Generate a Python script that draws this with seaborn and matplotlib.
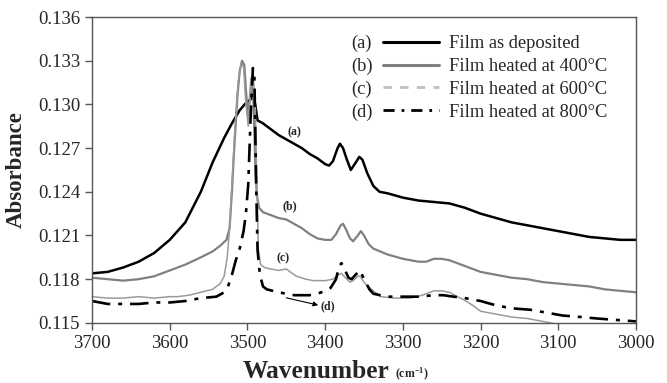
import matplotlib
matplotlib.use('Agg')
import matplotlib.pyplot as plt
from matplotlib.lines import Line2D
import seaborn as sns
import numpy as np
import pandas as pd

# ---- data (wavenumber, absorbance) ----
wn_a = [3700, 3680, 3660, 3640, 3620, 3600, 3580, 3560, 3545, 3530, 3520, 3510, 3502, 3497, 3493,
        3490, 3487, 3480, 3470, 3460, 3450, 3440, 3430, 3420, 3410, 3400, 3395, 3390, 3384, 3381,
        3377, 3372, 3367, 3362, 3356, 3352, 3346, 3338, 3330, 3320, 3300, 3280, 3260, 3240, 3220,
        3200, 3180, 3160, 3140, 3120, 3100, 3080, 3060, 3040, 3020, 3000]
abs_a = [0.1184, 0.1185, 0.1188, 0.1192, 0.1198, 0.1207, 0.1219, 0.1240, 0.1260, 0.1277, 0.1287,
         0.1296, 0.1301, 0.1303, 0.1305, 0.1300, 0.1289, 0.1287, 0.1283, 0.1279, 0.1276, 0.1273,
         0.1270, 0.1266, 0.1263, 0.1259, 0.1258, 0.1261, 0.1270, 0.1273, 0.1270, 0.1262, 0.1255,
         0.1259, 0.1264, 0.1262, 0.1253, 0.1244, 0.1240, 0.1239, 0.1236, 0.1234, 0.1233, 0.1232,
         0.1229, 0.1225, 0.1222, 0.1219, 0.1217, 0.1215, 0.1213, 0.1211, 0.1209, 0.1208, 0.1207,
         0.1207]

wn_b = [3700, 3680, 3660, 3640, 3620, 3600, 3580, 3560, 3545, 3535, 3527, 3523, 3520, 3517, 3513,
        3510, 3507, 3504, 3502, 3499, 3495, 3492, 3490, 3488, 3485, 3480, 3470, 3460, 3450, 3440,
        3430, 3420, 3410, 3400, 3392, 3386, 3380, 3377, 3373, 3368, 3364, 3358, 3354, 3350, 3344,
        3338, 3320, 3300, 3280, 3270, 3260, 3250, 3240, 3230, 3220, 3200, 3180, 3160, 3140, 3120,
        3100, 3080, 3060, 3040, 3020, 3000]
abs_b = [0.1181, 0.1180, 0.1179, 0.1180, 0.1182, 0.1186, 0.1190, 0.1195, 0.1199, 0.1203, 0.1207,
         0.1215, 0.1240, 0.1270, 0.1305, 0.1323, 0.1330, 0.1327, 0.1310, 0.1290, 0.1318, 0.1300,
         0.1260, 0.1238, 0.1229, 0.1226, 0.1224, 0.1222, 0.1221, 0.1218, 0.1215, 0.1211, 0.1208,
         0.1207, 0.1207, 0.1211, 0.1217, 0.1218, 0.1214, 0.1208, 0.1206, 0.1210, 0.1213, 0.1210,
         0.1204, 0.1201, 0.1197, 0.1194, 0.1192, 0.1192, 0.1194, 0.1194, 0.1193, 0.1191, 0.1189,
         0.1185, 0.1183, 0.1181, 0.1180, 0.1178, 0.1177, 0.1176, 0.1175, 0.1173, 0.1172, 0.1171]

wn_c = [3700, 3680, 3660, 3640, 3620, 3600, 3590, 3575, 3560, 3545, 3535, 3530, 3526, 3523, 3520,
        3516, 3512, 3508, 3505, 3502, 3499, 3496, 3493, 3490, 3488, 3486, 3483, 3478, 3470, 3460,
        3450, 3445, 3437, 3425, 3415, 3400, 3390, 3383, 3379, 3374, 3368, 3364, 3358, 3355, 3350,
        3345, 3338, 3329, 3310, 3290, 3275, 3260, 3250, 3240, 3230, 3222, 3210, 3200, 3180, 3160,
        3140, 3120, 3100, 3080, 3060, 3030, 3000]
abs_c = [0.1168, 0.1167, 0.1167, 0.1168, 0.1167, 0.1168, 0.1168, 0.1169, 0.1171, 0.1173, 0.1177,
         0.1182, 0.1195, 0.1215, 0.1245, 0.1285, 0.1315, 0.1328, 0.1326, 0.1300, 0.1285, 0.1310,
         0.1322, 0.1300, 0.1250, 0.1200, 0.1190, 0.1188, 0.1187, 0.1186, 0.1187, 0.1185, 0.1182,
         0.1180, 0.1179, 0.1179, 0.1180, 0.1183, 0.1184, 0.1181, 0.1178, 0.1179, 0.1182, 0.1182,
         0.1178, 0.1175, 0.1172, 0.1168, 0.1167, 0.1167, 0.1169, 0.1172, 0.1172, 0.1171, 0.1168,
         0.1166, 0.1162, 0.1158, 0.1156, 0.1154, 0.1153, 0.1151, 0.1149, 0.1148, 0.1147, 0.1146,
         0.1145]

wn_d = [3700, 3680, 3660, 3640, 3620, 3600, 3580, 3560, 3540, 3530, 3525, 3520, 3515, 3510, 3505,
        3502, 3499, 3496, 3493, 3491, 3489, 3487, 3484, 3480, 3475, 3460, 3450, 3440, 3430, 3420,
        3410, 3400, 3393, 3386, 3382, 3379, 3376, 3370, 3366, 3361, 3355, 3350, 3343, 3338, 3320,
        3300, 3280, 3260, 3248, 3235, 3220, 3200, 3180, 3160, 3136, 3115, 3094, 3070, 3050, 3025,
        3000]
abs_d = [0.1165, 0.1163, 0.1163, 0.1163, 0.1164, 0.1164, 0.1165, 0.1167, 0.1168, 0.1171, 0.1175,
         0.1183, 0.1193, 0.1201, 0.1213, 0.1225, 0.1245, 0.1290, 0.1325, 0.1318, 0.1250, 0.1200,
         0.1183, 0.1175, 0.1173, 0.1171, 0.1170, 0.1169, 0.1169, 0.1169, 0.1170, 0.1172, 0.1174,
         0.1180, 0.1189, 0.1191, 0.1188, 0.1181, 0.1180, 0.1183, 0.1186, 0.1180, 0.1173, 0.1170,
         0.1168, 0.1168, 0.1168, 0.1169, 0.1169, 0.1168, 0.1167, 0.1165, 0.1162, 0.1160, 0.1159,
         0.1157, 0.1155, 0.1154, 0.1153, 0.1152, 0.1151]

tags = ['(a)', '(b)', '(c)', '(d)']
labels = ['Film as deposited', 'Film heated at 400\u00b0C', 'Film heated at 600\u00b0C',
          'Film heated at 800\u00b0C']
x_ticks = [3700, 3600, 3500, 3400, 3300, 3200, 3100, 3000]
y_ticks = [0.115, 0.118, 0.121, 0.124, 0.127, 0.130, 0.133, 0.136]

# ---- style ----
sns.set_style('white')
plt.rcParams['font.family'] = ['Liberation Serif', 'DejaVu Serif']
plt.rcParams['mathtext.fontset'] = 'custom'
plt.rcParams['mathtext.rm'] = 'Liberation Serif'
plt.rcParams['mathtext.bf'] = 'Liberation Serif:bold'

fig = plt.figure(figsize=(6.67, 3.83), dpi=100)
ax = fig.add_axes([0.138, 0.157, 0.8155, 0.7985])

styles = [
    dict(color='black', lw=1.8, ls='-'),
    dict(color='#808080', lw=1.6, ls='-'),
    dict(color='#9a9a9a', lw=1.1, ls='-'),
    dict(color='black', lw=1.9, ls=(0, (7, 3, 1.5, 3))),
]
curves = [(wn_a, abs_a), (wn_b, abs_b), (wn_c, abs_c), (wn_d, abs_d)]
for (wn, ab), st in zip(curves, styles):
    sns.lineplot(x=wn, y=ab, ax=ax, color=st['color'], linewidth=st['lw'], linestyle=st['ls'],
                 estimator=None, sort=False, legend=False)

ax.set_xlim(3700, 3000)
ax.set_ylim(0.115, 0.136)
ax.set_xticks(x_ticks)
ax.set_yticks(y_ticks)
ax.set_yticklabels(['%.3f' % v for v in y_ticks])
ax.tick_params(axis='both', labelsize=13.5, direction='out', length=5, width=1, color='#555555',
               bottom=True, left=True)
for s in ax.spines.values():
    s.set_color('#555555')
    s.set_linewidth(1)
ax.set_xlabel('')
ax.set_ylabel('Absorbance', fontsize=16.5, fontweight='bold', labelpad=8)

# x label: big bold word plus smaller unit
fig.text(243 / 667, 5 / 383, 'Wavenumber', fontsize=18.3, fontweight='bold', ha='left', va='baseline')
fig.text(395 / 667, 5 / 383, r'$\mathbf{(cm^{-1})}$', fontsize=8.5, ha='left', va='baseline')

# legend (custom handles, light gray dashed for c as in the reference)
handles = [
    Line2D([], [], color='black', lw=2.2, ls='-'),
    Line2D([], [], color='#808080', lw=2.2, ls='-'),
    Line2D([], [], color='#c0c0c0', lw=2.0, ls=(0, (3, 3))),
    Line2D([], [], color='black', lw=2.0, ls=(0, (4, 2.5, 1, 2.5))),
]
leg = ax.legend(handles, labels, loc='upper left', bbox_to_anchor=(0.522, 0.965), frameon=False,
                fontsize=13.3, handlelength=3.0, handletextpad=0.55, labelspacing=0.32,
                borderaxespad=0)
for t, yy in zip(tags, [0.915, 0.84, 0.765, 0.688]):
    ax.text(0.496, yy, t, transform=ax.transAxes, fontsize=13.3, ha='center', va='center')

# curve tags
ax.text(3439, 0.12806, '(a)', fontsize=8.5, fontweight='bold', ha='center', va='center')
ax.text(3445, 0.12298, '(b)', fontsize=8.5, fontweight='bold', ha='center', va='center')
ax.text(3454, 0.11946, '(c)', fontsize=8.5, fontweight='bold', ha='center', va='center')
ax.text(3396, 0.11612, '(d)', fontsize=8.5, fontweight='bold', ha='center', va='center')
ax.annotate('', xy=(3409, 0.11622), xytext=(3450, 0.11672),
            arrowprops=dict(arrowstyle='-|>', color='black', lw=0.8, mutation_scale=7,
                            shrinkA=0, shrinkB=0))

fig.savefig('out.png', dpi=100)
